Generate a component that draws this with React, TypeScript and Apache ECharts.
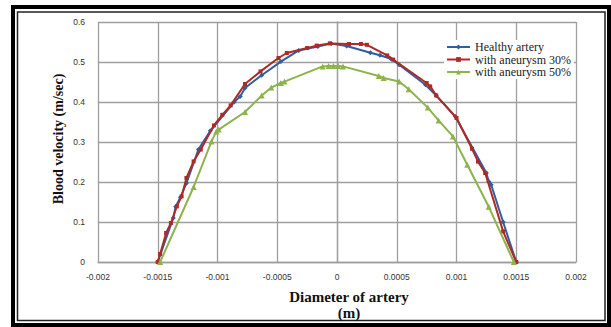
import { useEffect, useRef } from "react";
import * as echarts from "echarts";

const seriesNames = ["Healthy artery", "with aneurysm 30%", "with aneurysm 50%"];

const healthy: [number, number][] = [
  [-0.0015, 0], [-0.00137, 0.11], [-0.00135, 0.138], [-0.00131, 0.162], [-0.00126, 0.197],
  [-0.00116, 0.281], [-0.00106, 0.328], [-0.00086, 0.4], [-0.00081, 0.414], [-0.00077, 0.435],
  [-0.00063, 0.467], [-0.00047, 0.501], [-0.00032, 0.529], [-0.00016, 0.539], [-0.00005, 0.546],
  [0.00008, 0.54], [0.00028, 0.523], [0.00036, 0.517], [0.00045, 0.508], [0.00052, 0.493],
  [0.00074, 0.443], [0.00083, 0.416], [0.00099, 0.364], [0.00125, 0.2225], [0.00127, 0.2015],
  [0.00129, 0.193], [0.00139, 0.1], [0.0015, 0],
];

const aneurysm30: [number, number][] = [
  [-0.0015, 0], [-0.00148, 0.02], [-0.00143, 0.0725], [-0.00139, 0.0975], [-0.00134, 0.139],
  [-0.0013, 0.164], [-0.00126, 0.21], [-0.0012, 0.2515], [-0.00114, 0.281], [-0.00103, 0.3415],
  [-0.00096, 0.368], [-0.00089, 0.3915], [-0.00077, 0.445], [-0.00064, 0.4765], [-0.00049, 0.51],
  [-0.00042, 0.5225], [-0.00025, 0.535], [-0.00017, 0.541], [-0.00006, 0.5465], [0.0001, 0.545],
  [0.0002, 0.545], [0.00025, 0.543], [0.00042, 0.5165], [0.00047, 0.506], [0.00075, 0.4475],
  [0.00078, 0.439], [0.00083, 0.4165], [0.001, 0.36], [0.00113, 0.283], [0.00118, 0.251],
  [0.00124, 0.2225], [0.00139, 0.0765], [0.0015, 0],
];

const aneurysm50: [number, number][] = [
  [-0.00148, 0], [-0.0012, 0.1875], [-0.00105, 0.3015], [-0.00101, 0.3265], [-0.00099, 0.331],
  [-0.00077, 0.375], [-0.00063, 0.416], [-0.00055, 0.436], [-0.00047, 0.4475], [-0.00044, 0.451],
  [-0.00012, 0.489], [-0.00007, 0.49], [-0.00003, 0.49], [0.00001, 0.49], [0.00005, 0.489],
  [0.00035, 0.465], [0.00039, 0.46], [0.00052, 0.4515], [0.0006, 0.432], [0.00076, 0.386],
  [0.00085, 0.354], [0.00097, 0.314], [0.00109, 0.243], [0.00127, 0.138], [0.00148, 0],
];

const colors = ["#2f5f9f", "#ad2b27", "#8cb34c"];
const symbols = ["diamond", "rect", "triangle"];
const symbolSizes = [5, 4, 6];

const fmt = (v: number) => String(+Number(v).toFixed(4));

export default function App() {
  const ref = useRef<HTMLDivElement>(null);
  useEffect(() => {
    if (!ref.current) return;
    const chart = echarts.init(ref.current, null, { renderer: "svg" });
    const datasets = [healthy, aneurysm30, aneurysm50];
    chart.setOption({
      animation: false,
      backgroundColor: "#ffffff",
      grid: { left: 98, top: 22, width: 478, height: 240, containLabel: false },
      xAxis: {
        type: "value",
        min: -0.002,
        max: 0.002,
        interval: 0.0005,
        axisLine: { show: true, lineStyle: { color: "#9e9e9e", width: 1.3 } },
        axisTick: { show: false },
        splitLine: { show: true, lineStyle: { color: "#9e9e9e", width: 1.3 } },
        axisLabel: {
          formatter: fmt,
          fontFamily: "Liberation Sans",
          fontSize: 8.5,
          color: "#333",
          margin: 10,
        },
      },
      yAxis: {
        type: "value",
        min: 0,
        max: 0.6,
        interval: 0.1,
        axisLine: { show: true, lineStyle: { color: "#9e9e9e", width: 1.3 } },
        axisTick: { show: false },
        splitLine: { show: true, lineStyle: { color: "#9e9e9e", width: 1.3 } },
        axisLabel: {
          formatter: fmt,
          fontFamily: "Liberation Sans",
          fontSize: 8.5,
          color: "#333",
          margin: 13,
        },
      },
      legend: {
        orient: "vertical",
        left: 444,
        top: 40,
        itemWidth: 23,
        itemHeight: 6,
        itemGap: 0.5,
        backgroundColor: "#ffffff",
        padding: [1, 3, 1, 2],
        textStyle: {
          fontFamily: "Liberation Serif",
          fontSize: 12,
          lineHeight: 12,
          color: "#1a1a1a",
        },
        data: seriesNames,
      },
      series: datasets.map((d, i) => ({
        name: seriesNames[i],
        type: "line",
        data: d,
        symbol: symbols[i],
        symbolSize: symbolSizes[i],
        showSymbol: true,
        lineStyle: { color: colors[i], width: 2 },
        itemStyle: { color: colors[i] },
        z: 2 + i,
      })),
      graphic: [
        {
          type: "rect",
          shape: { x: 13, y: 7, width: 596, height: 318 },
          style: { fill: "none", stroke: "#000", lineWidth: 4 },
          z: 100,
        },
        {
          type: "rect",
          shape: { x: 17.5, y: 12, width: 587.5, height: 308.5 },
          style: { fill: "none", stroke: "#222", lineWidth: 1.5 },
          z: 100,
        },
        {
          type: "text",
          x: 58.5,
          y: 139,
          rotation: Math.PI / 2,
          style: {
            text: "Blood velocity (m/sec)",
            font: "bold 14px 'Liberation Serif'",
            fill: "#111",
            align: "center",
            verticalAlign: "middle",
          },
          z: 100,
        },
        {
          type: "text",
          x: 349,
          y: 297,
          style: {
            text: "Diameter of artery",
            font: "bold 15px 'Liberation Serif'",
            fill: "#111",
            align: "center",
            verticalAlign: "middle",
          },
          z: 100,
        },
        {
          type: "text",
          x: 349,
          y: 312.5,
          style: {
            text: "(m)",
            font: "bold 15px 'Liberation Serif'",
            fill: "#111",
            align: "center",
            verticalAlign: "middle",
          },
          z: 100,
        },
      ],
    });
    return () => chart.dispose();
  }, []);
  return (
    <div
      ref={ref}
      style={{ position: "fixed", left: 0, top: 0, width: 611, height: 327 }}
    />
  );
}
